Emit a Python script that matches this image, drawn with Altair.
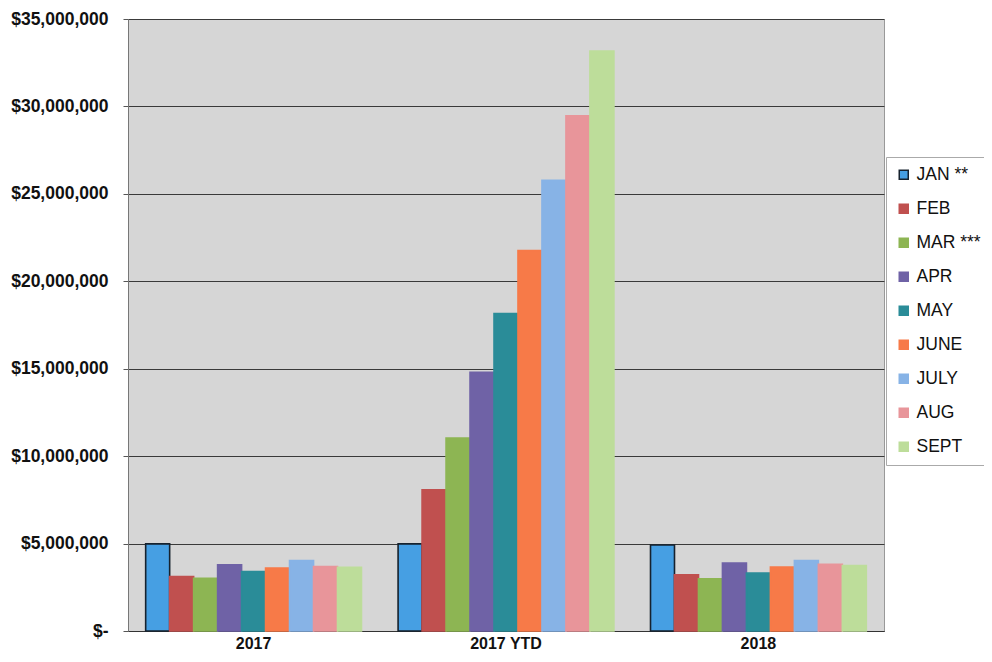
import altair as alt
import pandas as pd

months = ["JAN **", "FEB", "MAR ***", "APR", "MAY", "JUNE", "JULY", "AUG", "SEPT"]
groups = ["2017", "2017 YTD", "2018"]
v2017 = [4980000, 3120000, 3020000, 3780000, 3400000, 3600000, 4030000, 3690000, 3650000]
vytd = [4980000, 8070000, 11040000, 14790000, 18160000, 21760000, 25780000, 29470000, 33160000]
v2018 = [4920000, 3220000, 2990000, 3880000, 3310000, 3660000, 4030000, 3820000, 3750000]

fill_colors = ["#469fe3", "#c0504f", "#8db553", "#6f62a6", "#2a8c98",
               "#f77a48", "#87b3e6", "#e8959a", "#bddd9a"]
stroke_colors = ["#16222e"] + fill_colors[1:]

rows = []
for g, vals in zip(groups, [v2017, vytd, v2018]):
    for m, v in zip(months, vals):
        rows.append({"group": g, "month": m, "value": v})
df = pd.DataFrame(rows)

FONT = "Liberation Sans"

chart = alt.Chart(df).mark_bar(strokeWidth=1.6).encode(
    x=alt.X("group:N", sort=groups, title=None,
            scale=alt.Scale(paddingInner=0.145, paddingOuter=0.07),
            axis=alt.Axis(labelAngle=0, ticks=False, labelFontSize=16,
                          labelFontWeight="bold", labelFont=FONT, labelColor="#111",
                          labelPadding=4, domainColor="#333", grid=False)),
    xOffset=alt.XOffset("month:N", sort=months,
                        scale=alt.Scale(paddingInner=0, paddingOuter=0)),
    y=alt.Y("value:Q", title=None,
            scale=alt.Scale(domain=[0, 35000000], nice=False),
            axis=alt.Axis(values=[0, 5000000, 10000000, 15000000, 20000000,
                                  25000000, 30000000, 35000000],
                          labelExpr="datum.value == 0 ? '$-' : '$' + format(datum.value, ',')",
                          labelFontSize=17.5, labelFontWeight="bold", labelFont=FONT,
                          labelColor="#111", labelPadding=15, tickSize=5,
                          tickColor="#555", domainColor="#777",
                          gridColor="#3a3a3a", gridWidth=1)),
    color=alt.Color("month:N", sort=months, title=None,
                    scale=alt.Scale(domain=months, range=fill_colors),
                    legend=alt.Legend(orient="none", legendX=758, legendY=138,
                                      symbolType="square", symbolSize=81,
                                      symbolStrokeWidth=1.5,
                                      labelFontSize=17.5, labelFont=FONT,
                                      labelColor="#111", rowPadding=15,
                                      padding=9, strokeColor="#aaa",
                                      fillColor="white", labelOffset=4)),
    stroke=alt.Stroke("month:N", sort=months, title=None,
                      scale=alt.Scale(domain=months, range=stroke_colors)),
).properties(
    width=756, height=612,
    background="white",
    autosize=alt.AutoSizeParams(type="none"),
    padding={"left": 120, "top": 11, "right": 100, "bottom": 20},
).configure_view(
    fill="#d6d6d6", stroke="#999"
)

chart.save("out.html", embed_options={"renderer": "svg", "actions": False})
